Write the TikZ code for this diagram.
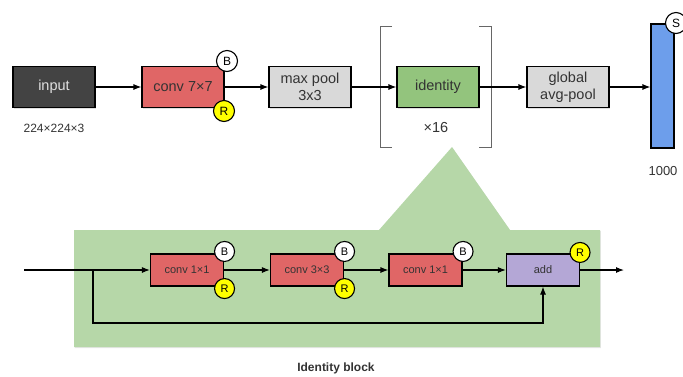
\documentclass[tikz,border=0pt]{standalone}
\usepackage{fontspec}
\setmainfont{Liberation Sans}
\usetikzlibrary{arrows.meta,shadows}
\definecolor{inputgray}{HTML}{434343}
\definecolor{convred}{HTML}{E06666}
\definecolor{poolgray}{HTML}{D9D9D9}
\definecolor{identgreen}{HTML}{93C47D}
\definecolor{panelgreen}{HTML}{B6D7A8}
\definecolor{fcblue}{HTML}{6D9EEB}
\definecolor{addpurple}{HTML}{B4A7D6}
\definecolor{badgeyellow}{HTML}{FFFF00}

\begin{document}
\begin{tikzpicture}[x=1pt, y=1pt, >={Latex[length=8pt,width=6pt]},
	every node/.style={font=\fontsize{14.5}{17}\selectfont, text=black!80},
	layer/.style={draw=black, line width=1.1pt, minimum width=82pt, minimum height=41pt, align=center, inner sep=1pt,
		drop shadow={shadow xshift=0.8pt, shadow yshift=-1.2pt, opacity=0.25}},
	small layer/.style={layer, minimum width=73pt, minimum height=32pt, font=\fontsize{11}{13}\selectfont},
	badge/.style={circle, draw=black, line width=1.1pt, fill=white, minimum size=21pt, inner sep=0pt, text=black, font=\fontsize{12}{12}\selectfont},
	small badge/.style={badge, minimum size=20pt, font=\fontsize{11}{11}\selectfont},
	link/.style={->, line width=1.1pt, black}]
	\useasboundingbox (0,0) rectangle (683,-376);
	\fill[panelgreen, drop shadow={shadow xshift=0.8pt, shadow yshift=-1.2pt, opacity=0.2}]
		(74,-230) -- (379,-230) -- (452,-147) -- (510,-230) -- (600,-230) -- (600,-347) -- (74,-347) -- cycle;
	\draw[black!60, line width=0.8pt] (392,-26) -- (380,-26) -- (380,-147) -- (392,-147);
	\draw[black!60, line width=0.8pt] (479,-26) -- (491,-26) -- (491,-147) -- (479,-147);

	\node[layer, fill=inputgray, text=white!88!black] (input) at (54,-87) {input};
	\node[layer, fill=convred] (conv) at (183,-87) {conv 7×7};
	\node[layer, fill=poolgray] (maxpool) at (310,-87) {max pool\\3x3};
	\node[layer, fill=identgreen] (identity) at (438,-87) {identity};
	\node[layer, fill=poolgray] (avgpool) at (568,-87) {global\\avg-pool};
	\node[layer, fill=fcblue, minimum width=23pt, minimum height=124pt] (fc) at (662.5,-86) {};
	\node[badge] (conv-b) at (227,-61) {B};
	\node[badge, fill=badgeyellow] (conv-r) at (224,-111) {R};
	\node[badge] (fc-s) at (676,-23) {S};
	\node[font=\fontsize{12}{12}\selectfont] (insize) at (54,-128) {224×224×3};
	\node (repeat) at (436,-128) {×16};
	\node[font=\fontsize{13}{13}\selectfont] (fcsize) at (663,-171) {1000};
	\foreach \a/\b in {input/conv, conv/maxpool, maxpool/identity, identity/avgpool}
		\draw[link] (\a) -- (\b);
	\draw[link] (avgpool) -- (avgpool -| fc.west);

	\coordinate (blockin) at (24,-270);
	\coordinate (split) at (93,-270);
	\coordinate (skip) at (93,-323);
	\coordinate (blockout) at (624,-270);
	\node[small layer, fill=convred] (c1) at (187,-270) {conv 1×1};
	\node[small layer, fill=convred] (c2) at (307,-270) {conv 3×3};
	\node[small layer, fill=convred] (c3) at (425.5,-270) {conv 1×1};
	\node[small layer, fill=addpurple] (add) at (543,-270) {add};
	\foreach \n in {c1,c2,c3}
		\node[small badge] (\n-b) at ([xshift=0.5pt,yshift=2pt]\n.north east) {B};
	\foreach \n in {c1,c2}
		\node[small badge, fill=badgeyellow] (\n-r) at ([xshift=0.5pt,yshift=-2pt]\n.south east) {R};
	\node[small badge, fill=badgeyellow] (add-r) at ([yshift=1pt]add.north east) {R};
	\draw[line width=1.5pt] (blockin) -- (split);
	\foreach \a/\b in {split/c1, c1/c2, c2/c3, c3/add, add/blockout}
		\draw[link] (\a) -- (\b);
	\draw[link] (split) -- (skip) -| (add);
	\node[font=\bfseries\fontsize{12}{12}\selectfont] (blocktitle) at (336,-368) {Identity block};
\end{tikzpicture}
\end{document}
